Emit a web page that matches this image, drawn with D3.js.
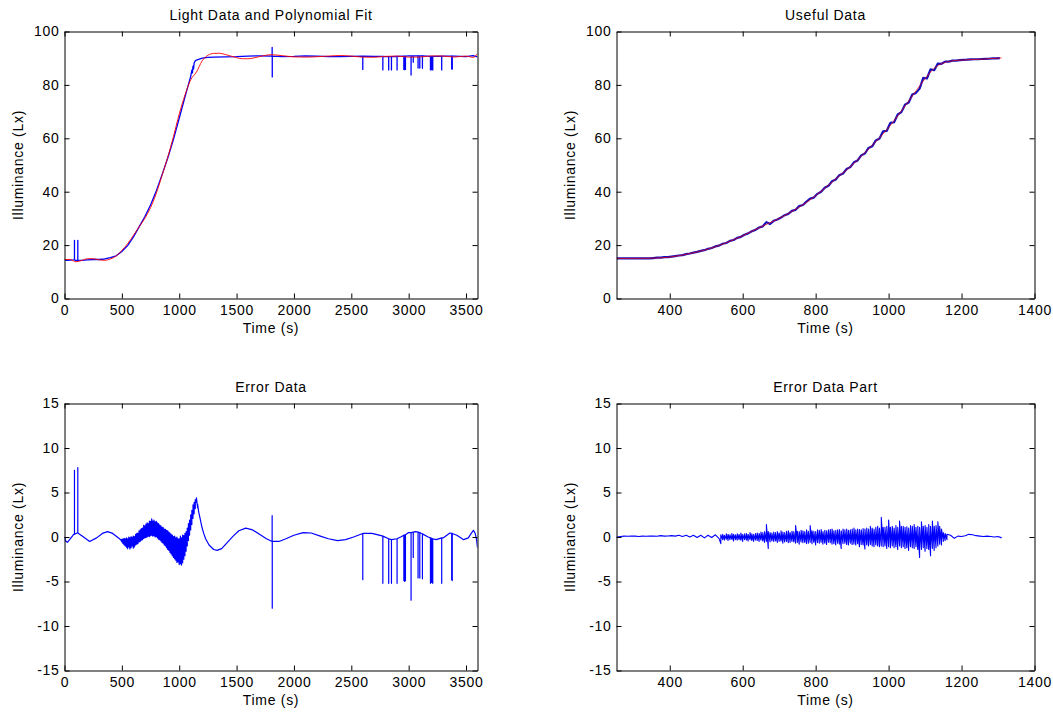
<!DOCTYPE html>
<html><head><meta charset="utf-8">
<script src="https://cdn.jsdelivr.net/npm/d3@7"></script>
<style>
body{margin:0;background:#fff}
text{font-family:"Liberation Sans",Arial,Helvetica,sans-serif;font-size:14px;letter-spacing:0.7px;fill:#000}
</style>
</head><body>
<svg id="c" width="1053" height="715"></svg>
<script>
// ---------------- DATA ----------------
const titles = ["Light Data and Polynomial Fit", "Useful Data", "Error Data", "Error Data Part"];
const xLabel = "Time (s)";
const yLabel = "Illuminance (Lx)";
const xTicksFull = [0, 500, 1000, 1500, 2000, 2500, 3000, 3500];
const xTicksPart = [400, 600, 800, 1000, 1200, 1400];
const yTicksLight = [0, 20, 40, 60, 80, 100];
const yTicksError = [-15, -10, -5, 0, 5, 10, 15];

// measured light data [time, lux]
const lightData = [[0,14.6],[20,14.3],[50,14.4],[100,14.2],[150,14.3],[200,14.5],[250,14.6],[300,14.6],[350,14.8],[400,15.3],[450,16.0],[500,17.6],[550,19.8],[600,23.0],[650,26.8],[700,30.6],[750,35.0],[800,40.3],[850,46.3],[900,52.6],[950,59.6],[1000,67.5],[1050,75.4],[1100,83.2],[1110,85.5],[1115,84.5],[1120,87.0],[1125,86.0],[1130,88.2],[1140,89.0],[1150,89.3],[1200,90.0],[1250,90.3],[1300,90.4],[1400,90.5],[1500,90.6],[1600,90.8],[1700,90.9],[1800,90.8],[1900,90.6],[2000,90.7],[2100,90.9],[2200,90.8],[2300,90.6],[2400,90.6],[2500,90.7],[2600,90.8],[2700,90.7],[2800,90.6],[2900,90.7],[3000,90.9],[3100,90.9],[3200,90.7],[3300,90.8],[3400,90.8],[3500,90.6],[3560,91.0],[3600,90.5]];
// spikes in light data [time, base, peak]
const lightSpikes = [[87,14.5,21.8],[116,14.4,21.8],[1810,90.8,94.0],[1811,90.8,83.0],[2600,90.8,85.8],[2775,90.7,85.6],[2826,90.6,85.6],[2850,90.6,85.6],[2899,90.7,85.6],[2958,90.8,85.8],[2965,90.8,85.7],[2972,90.8,85.8],[3021,90.9,83.7],[3040,90.9,88.5],[3082,90.9,86.3],[3097,90.9,86.3],[3120,90.9,86.2],[3190,90.7,85.6],[3200,90.7,85.7],[3210,90.7,85.6],[3288,90.8,85.6],[3375,90.8,86.0],[3380,90.8,85.9]];
// polynomial fit of full data
const lightFit = [[0,14.6],[50,14.6],[100,13.75],[150,14.25],[200,14.9],[250,14.9],[300,14.5],[350,14.3],[400,14.8],[450,15.9],[500,18.0],[550,20.5],[600,23.6],[650,26.8],[700,30.0],[750,34.0],[800,39.4],[850,46.0],[900,52.9],[950,60.7],[1000,69.1],[1050,76.2],[1100,81.9],[1150,84.8],[1200,89.0],[1250,91.1],[1300,91.8],[1350,91.85],[1400,91.4],[1450,90.8],[1500,90.2],[1550,89.8],[1600,89.8],[1650,90.1],[1700,90.6],[1800,91.3],[1900,90.95],[2000,90.5],[2100,90.4],[2200,90.55],[2300,90.8],[2400,91.0],[2500,90.8],[2600,90.4],[2700,90.35],[2800,90.7],[2900,90.8],[3000,90.4],[3100,90.45],[3200,90.85],[3300,90.8],[3400,90.45],[3500,90.8],[3560,90.3],[3600,91.7]];

// useful data, sampled every 10 s from 255 s
const usefulStart = 255, usefulStep = 10;
const usefulData = [15.0,15.0,15.0,15.0,15.0,15.0,15.0,15.0,15.0,15.0,
15.15,15.3,15.3,15.5,15.5,15.7,15.9,16.1,16.25,16.6,
16.85,17.2,17.45,17.85,18.1,18.6,18.9,19.5,19.8,20.5,
20.8,21.6,21.9,22.7,23.1,23.9,24.4,25.2,25.7,26.6,
27.0,28.6,27.9,29.1,29.6,30.3,31.2,31.7,32.8,33.2,
34.6,35.0,36.3,37.4,37.8,39.2,40.0,41.5,42.2,43.9,
44.6,46.2,46.8,48.5,49.2,51.0,51.7,53.6,54.3,56.4,
57.0,59.2,59.9,62.6,62.8,65.8,66.0,68.9,69.8,72.6,
73.4,76.4,77.0,78.6,82.6,82.4,85.8,85.5,88.0,87.9,
88.7,88.7,89.1,89.1,89.3,89.4,89.45,89.55,89.6,89.6,
89.7,89.75,89.8,89.9,89.95,90.05];
// polynomial fit of useful data
const usefulFit = [[254,15.0],[300,15.0],[350,15.1],[400,15.5],[450,16.7],[500,18.3],[550,20.6],[600,23.5],[650,26.8],[700,30.0],[750,33.8],[800,38.5],[850,44.2],[900,50.0],[950,56.7],[1000,64.0],[1050,73.0],[1100,82.3],[1125,86.2],[1150,88.2],[1175,89.0],[1200,89.3],[1250,89.6],[1310,90.1]];

// error of full data: smooth stretches [time, lux]
const errorData = [[0,0.0],[10,-0.45],[25,-0.6],[50,-0.2],[80,0.3],[110,0.45],[160,0.05],[220,-0.5],[280,-0.1],[330,0.4],[375,0.6],[420,0.4],[460,0.0],[490,-0.3],
[1170,2.8],[1180,2.2],[1190,1.6],[1200,1.0],[1215,0.35],[1230,-0.2],[1260,-0.9],[1300,-1.4],[1330,-1.5],[1370,-1.3],[1420,-0.6],[1470,0.1],[1520,0.7],[1580,1.0],[1640,0.8],[1700,0.3],[1760,-0.2],[1810,-0.5],[1870,-0.5],[1930,-0.2],[2000,0.2],[2080,0.5],[2150,0.45],[2230,0.1],[2300,-0.2],[2380,-0.4],[2450,-0.3],[2520,0.0],[2600,0.4],[2680,0.4],[2760,0.15],[2850,-0.3],[2930,0.0],[3000,0.5],[3060,0.6],[3110,0.4],[3170,0.0],[3240,-0.3],[3300,-0.1],[3360,0.45],[3420,0.2],[3480,-0.3],[3520,-0.1],[3545,0.4],[3565,0.75],[3580,0.4],[3592,-0.3],[3600,-1.2]];
// error of full data: noisy stretch as [time, low, high] every 10 s
const errorBand = [[500,-0.55,-0.25],[510,-0.75,-0.2],[520,-0.9,-0.15],[530,-1.0,-0.2],[540,-1.15,-0.1],[550,-1.3,-0.2],[560,-1.1,0.0],[570,-1.35,-0.1],[580,-1.2,0.05],[590,-1.0,-0.05],
[600,-1.25,0.1],[610,-1.1,0.05],[620,-0.9,0.3],[630,-0.8,0.4],[640,-0.75,0.45],[650,-0.55,0.7],[660,-0.5,0.8],[670,-0.35,0.95],[680,-0.3,1.0],[690,-0.15,1.3],
[700,-0.1,1.25],[710,-0.05,1.45],[720,0.0,1.6],[730,0.1,1.5],[740,0.05,1.8],[750,0.15,1.75],[760,0.2,2.05],[770,0.1,1.8],[780,0.15,1.9],[790,0.0,1.7],
[800,0.05,1.75],[810,-0.1,1.6],[820,-0.25,1.5],[830,-0.3,1.35],[840,-0.45,1.25],[850,-0.6,1.1],[860,-0.7,1.05],[870,-0.9,0.9],[880,-1.0,0.85],[890,-1.2,0.75],
[900,-1.4,0.7],[910,-1.5,0.55],[920,-1.75,0.45],[930,-1.9,0.3],[940,-2.1,0.2],[950,-2.3,0.05],[960,-2.45,0.1],[970,-2.6,-0.1],[980,-2.85,0.0],[990,-2.8,-0.2],
[1000,-3.1,-0.2],[1010,-3.0,0.1],[1020,-3.15,-0.1],[1030,-2.9,0.2],[1040,-2.5,0.15],[1050,-2.1,0.4],[1060,-1.6,0.6],[1070,-1.0,1.0],[1080,-0.4,1.5],[1090,0.2,1.9],
[1100,0.8,2.5],[1110,1.4,3.0],[1120,2.1,3.6],[1130,2.6,3.9],[1140,3.2,4.2],[1150,3.9,4.4],[1160,3.3,3.7]];
const errorSpikes = [[87,0.3,7.5],[116,0.45,7.8],[1810,-0.5,2.4],[1811,-0.5,-8.0],[2600,0.4,-4.8],[2775,0.1,-5.2],[2826,-0.2,-5.2],[2850,-0.3,-5.2],[2899,-0.2,-5.2],[2958,0.2,-4.9],[2965,0.2,-5.0],[2972,0.25,-4.9],[3021,0.5,-7.1],[3040,0.55,-2.3],[3082,0.55,-4.6],[3097,0.5,-4.6],[3120,0.35,-4.7],[3190,-0.1,-5.2],[3200,-0.15,-5.1],[3210,-0.2,-5.2],[3288,-0.1,-5.2],[3375,0.4,-4.8],[3380,0.4,-4.9]];

// error of useful data
const errPartLowStart = 255, errPartLowStep = 10;
const errPartLow = [0.0,0.05,0.1,0.08,0.12,0.1,0.05,0.1,0.08,0.1,0.12,0.08,0.15,0.1,0.12,0.15,0.1,0.2,0.05,0.2,0.0,0.2,-0.05,0.2,-0.1,0.2,-0.05,0.25,-0.15];
// noisy stretch: high and low edges every 5 s from 540 s
const errPartBandStart = 540, errPartBandStep = 5;
const errPartHigh = [0.25,0.3,0.2,0.35,0.3,0.25,0.4,0.3,0.25,0.35,
0.3,0.45,0.3,0.35,0.4,0.3,0.5,0.35,0.3,0.4,
0.45,0.4,0.55,0.5,0.6,1.4,0.6,0.5,0.45,0.55,
0.5,0.6,0.45,0.7,0.55,0.5,0.65,0.7,0.5,0.65,
0.6,1.3,0.65,0.6,0.75,0.7,0.6,0.8,0.65,1.3,
0.7,0.65,0.6,0.8,0.75,0.85,0.6,0.75,0.7,0.8,
0.85,0.9,0.7,0.75,0.8,0.85,0.7,0.9,0.8,0.9,
0.75,0.8,0.9,1.0,0.8,0.9,0.85,0.8,0.95,0.9,
1.0,0.9,1.2,1.0,0.9,1.1,1.2,1.0,2.2,1.1,
1.1,1.2,1.9,1.1,1.2,1.0,1.3,1.1,1.8,1.2,
1.2,1.1,1.15,1.0,1.3,1.2,1.4,1.1,1.2,1.1,
1.7,1.2,1.3,1.1,1.4,1.2,1.8,1.2,1.3,1.7,
1.2,0.9,0.5,0.4,0.3];
const errPartLowEdge = [-0.75,-0.3,-0.35,-0.25,-0.4,-0.3,-0.25,-0.45,-0.3,-0.35,
-0.3,-0.35,-0.5,-0.3,-0.35,-0.45,-0.3,-0.4,-0.5,-0.35,
-0.4,-0.5,-0.35,-0.45,-0.6,-0.5,-1.3,-0.55,-0.45,-0.5,
-0.45,-0.6,-0.5,-0.45,-0.7,-0.55,-0.5,-0.65,-0.6,-0.5,
-0.55,-0.7,-0.6,-0.8,-0.55,-0.65,-0.6,-0.75,-0.7,-0.6,
-0.75,-0.6,-0.9,-0.65,-0.7,-0.6,-0.8,-0.7,-0.85,-0.6,
-0.65,-0.8,-0.75,-0.9,-0.7,-0.8,-1.3,-0.75,-0.7,-0.85,
-0.9,-0.7,-0.85,-0.8,-0.9,-0.75,-1.1,-0.85,-0.9,-1.35,
-0.9,-1.0,-0.85,-1.0,-1.1,-0.9,-1.0,-1.1,-1.0,-1.1,
-1.0,-1.3,-1.1,-1.2,-1.0,-1.2,-1.1,-1.4,-1.0,-1.2,
-1.1,-1.3,-1.2,-1.5,-1.1,-1.2,-1.3,-1.1,-1.4,-2.3,
-1.4,-1.2,-1.6,-1.3,-1.4,-2.1,-1.3,-1.5,-1.2,-1.0,
-0.8,-0.9,-0.5,-0.4,-0.3];
const errPartTailStart = 1170, errPartTailStep = 10;
const errPartTail = [0.2,-0.15,0.1,0.05,0.15,0.3,0.25,0.15,0.1,0.05,0.1,0.05,0.0,0.05,-0.1];

// ---------------- DRAWING ----------------
const BLUE = "#0000ff", RED = "#ff0000";
const regular = (vals, start, step) => vals.map((v, i) => [start + i * step, v]);
function withSpikes(points, spikes) {
  const extra = [];
  spikes.forEach(([t, b, p]) => { extra.push([t - 0.01, b], [t, p], [t + 0.01, b]); });
  return points.concat(extra).sort((a, b) => a[0] - b[0]);
}
function bandPoints(band) {
  const pts = [];
  band.forEach(([t, lo, hi]) => { pts.push([t, lo], [t, hi]); });
  return pts;
}
const errorFull = withSpikes(errorData.concat(bandPoints(errorBand)), errorSpikes);
const errPartBand = errPartHigh.map((h, i) => [errPartBandStart + i * errPartBandStep, errPartLowEdge[i], h]);
const errorPart = regular(errPartLow, errPartLowStart, errPartLowStep)
  .concat(bandPoints(errPartBand))
  .concat(regular(errPartTail, errPartTailStart, errPartTailStep));

const panels = [
  {id:"tl", title:titles[0], left:64.5, right:477.5, top:31.5, bottom:298.5, xDomain:[0,3600], yDomain:[0,100], xTicks:xTicksFull, yTicks:yTicksLight,
   series:[{data:withSpikes(lightData, lightSpikes), color:BLUE, width:1.3},
           {data:lightFit, color:RED, width:0.9, curve:d3.curveMonotoneX}]},
  {id:"tr", title:titles[1], left:616.5, right:1034.5, top:31.5, bottom:298.5, xDomain:[254,1400], yDomain:[0,100], xTicks:xTicksPart, yTicks:yTicksLight,
   series:[{data:regular(usefulData, usefulStart, usefulStep), color:"#1010c0", width:2.2},
           {data:usefulFit, color:RED, width:0.8, curve:d3.curveMonotoneX, opacity:0.85}]},
  {id:"bl", title:titles[2], left:64.5, right:477.5, top:403.5, bottom:670.5, xDomain:[0,3600], yDomain:[-15,15], xTicks:xTicksFull, yTicks:yTicksError,
   series:[{data:errorFull, color:BLUE, width:1.2}]},
  {id:"br", title:titles[3], left:616.5, right:1034.5, top:403.5, bottom:670.5, xDomain:[254,1400], yDomain:[-15,15], xTicks:xTicksPart, yTicks:yTicksError,
   series:[{data:errorPart, color:BLUE, width:1.1}]}
];

const svg = d3.select("#c");
const defs = svg.append("defs");
const fmt = d => String(d);

panels.forEach(cfg => {
  const g = svg.append("g");
  const x = d3.scaleLinear().domain(cfg.xDomain).range([cfg.left, cfg.right]);
  const y = d3.scaleLinear().domain(cfg.yDomain).range([cfg.bottom, cfg.top]);
  defs.append("clipPath").attr("id", "clip-" + cfg.id).append("rect")
    .attr("x", cfg.left).attr("y", cfg.top).attr("width", cfg.right - cfg.left).attr("height", cfg.bottom - cfg.top);
  const plot = g.append("g").attr("clip-path", `url(#clip-${cfg.id})`);
  cfg.series.forEach(s => {
    const line = d3.line().x(d => x(d[0])).y(d => y(d[1])).curve(s.curve || d3.curveLinear);
    plot.append("path").datum(s.data).attr("d", line).attr("fill", "none")
      .attr("stroke", s.color).attr("stroke-width", s.width).attr("stroke-linejoin", "round")
      .attr("stroke-opacity", s.opacity || 1);
  });
  const styleAxis = sel => { sel.selectAll("path,line").attr("stroke", "#000"); };
  g.append("g").attr("transform", `translate(0,${cfg.bottom})`)
    .call(d3.axisBottom(x).tickValues(cfg.xTicks).tickSizeInner(-5).tickSizeOuter(0).tickPadding(7).tickFormat(fmt)).call(styleAxis);
  g.append("g").attr("transform", `translate(0,${cfg.top})`)
    .call(d3.axisTop(x).tickValues(cfg.xTicks).tickSizeInner(-5).tickSizeOuter(0).tickFormat("")).call(styleAxis);
  g.append("g").attr("transform", `translate(${cfg.left},0)`)
    .call(d3.axisLeft(y).tickValues(cfg.yTicks).tickSizeInner(-5).tickSizeOuter(0).tickPadding(5).tickFormat(fmt)).call(styleAxis);
  g.append("g").attr("transform", `translate(${cfg.right},0)`)
    .call(d3.axisRight(y).tickValues(cfg.yTicks).tickSizeInner(-5).tickSizeOuter(0).tickFormat("")).call(styleAxis);
  const cx = (cfg.left + cfg.right) / 2, cy = (cfg.top + cfg.bottom) / 2;
  g.append("text").attr("x", cx).attr("y", cfg.top - 12).attr("text-anchor", "middle").text(cfg.title);
  g.append("text").attr("x", cx).attr("y", cfg.bottom + 34).attr("text-anchor", "middle").text(xLabel);
  g.append("text").attr("transform", `translate(${cfg.left - 42},${cy}) rotate(-90)`).attr("text-anchor", "middle").text(yLabel);
});
</script>
</body></html>
